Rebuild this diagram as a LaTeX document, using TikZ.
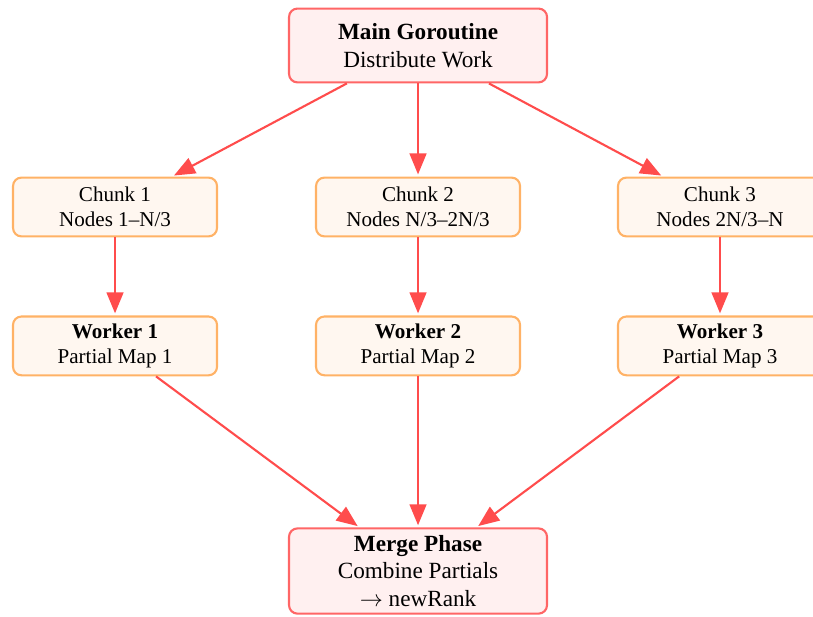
\documentclass[tikz,border=0pt]{standalone}
\usepackage{fontspec}
\setmainfont{Liberation Serif}
\usetikzlibrary{arrows.meta, positioning}
\tikzset{
    phasebox/.style={draw=red!60, fill=red!6, line width=1pt, rounded corners=4pt,
        align=center, inner sep=3pt, minimum width=4.3cm,
        font=\fontsize{11}{13}\selectfont},
    workbox/.style={draw=orange!60, fill=orange!6, line width=1pt, rounded corners=4pt,
        align=center, inner sep=3pt, minimum width=3.4cm, minimum height=0.98cm,
        font=\fontsize{10}{12}\selectfont},
    flow/.style={-{Triangle[length=3.5mm, width=2.8mm]}, draw=red!70, line width=1pt, shorten >=1pt}
}
\begin{document}
\begin{tikzpicture}
    \useasboundingbox (0,0) rectangle (13.55,-10.267);
    % main and merge
    \node[phasebox, minimum height=1.23cm] (main) at (6.967,-0.758) {\textbf{Main Goroutine}\\Distribute Work};
    \node[phasebox, minimum height=1.42cm] (merge) at (6.967,-9.517) {\textbf{Merge Phase}\\Combine Partials\\$\rightarrow$ newRank};
    % chunks
    \node[workbox] (chunk1) at (1.917,-3.45) {Chunk 1\\Nodes 1--N/3};
    \node[workbox] (chunk2) at (6.967,-3.45) {Chunk 2\\Nodes N/3--2N/3};
    \node[workbox] (chunk3) at (12.0,-3.45) {Chunk 3\\Nodes 2N/3--N};
    % workers
    \foreach \i in {1,2,3} {
        \node[workbox, below=1.3cm of chunk\i] (worker\i) {\textbf{Worker \i}\\Partial Map \i};
        \draw[flow] (main) -- (chunk\i);
        \draw[flow] (chunk\i) -- (worker\i);
        \draw[flow] (worker\i) -- (merge);
    }
\end{tikzpicture}
\end{document}
